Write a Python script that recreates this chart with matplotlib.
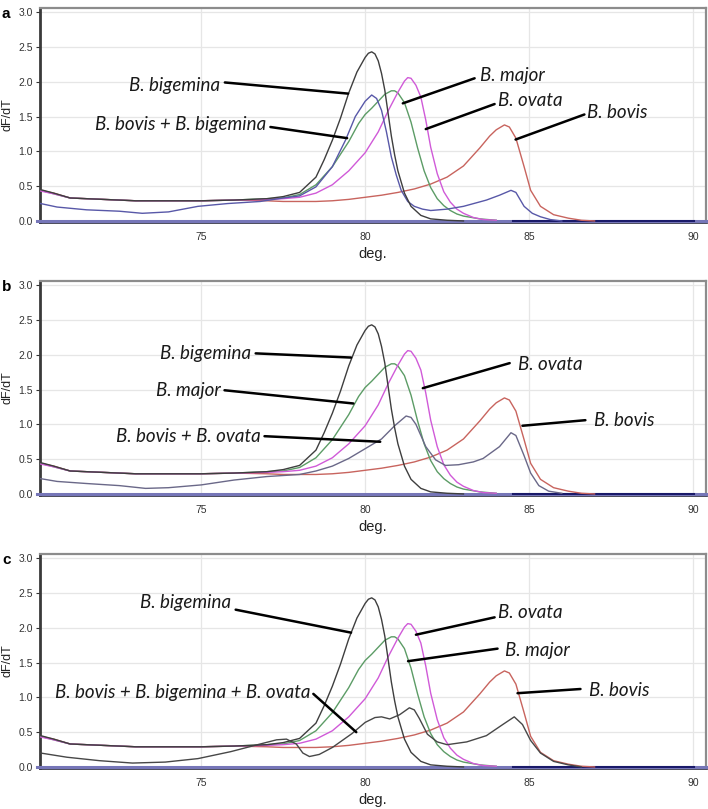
import matplotlib
matplotlib.use("Agg")
import matplotlib.pyplot as plt

# ---------------- data ----------------
x_ticks = [75, 80, 85, 90]
y_ticks = [0.0, 0.5, 1.0, 1.5, 2.0, 2.5, 3.0]
panel_labels = ["a", "b", "c"]

# reference species curves (same in all three panels)
bigemina_x = [70.1, 70.5, 71.0, 72.0, 73.0, 74.0, 75.0, 76.0, 77.0, 77.5, 78.0, 78.5, 78.75, 79.0,
              79.25, 79.5, 79.75, 80.0, 80.1, 80.2, 80.3, 80.4, 80.5, 80.6, 80.7, 80.8, 80.9, 81.0,
              81.2, 81.4, 81.7, 82.0, 82.5, 83.0]
bigemina_y = [0.45, 0.40, 0.33, 0.31, 0.29, 0.29, 0.29, 0.30, 0.32, 0.35, 0.41, 0.63, 0.88, 1.16,
              1.48, 1.84, 2.14, 2.35, 2.41, 2.43, 2.40, 2.30, 2.12, 1.88, 1.55, 1.22, 0.95, 0.72,
              0.40, 0.21, 0.08, 0.03, 0.01, 0.0]

major_x = [70.1, 70.5, 71.0, 72.0, 73.0, 74.0, 75.0, 76.0, 77.0, 77.5, 78.0, 78.5, 79.0, 79.5, 79.8,
           80.0, 80.2, 80.4, 80.6, 80.8, 80.9, 81.0, 81.2, 81.4, 81.6, 81.8, 82.0, 82.2, 82.4, 82.6,
           82.8, 83.0, 83.5, 84.0]
major_y = [0.44, 0.39, 0.33, 0.31, 0.29, 0.29, 0.29, 0.30, 0.32, 0.33, 0.38, 0.52, 0.78, 1.14, 1.40,
           1.53, 1.62, 1.72, 1.82, 1.87, 1.87, 1.84, 1.70, 1.42, 1.05, 0.72, 0.48, 0.32, 0.22, 0.15,
           0.10, 0.07, 0.03, 0.01]

ovata_x = [70.1, 70.5, 71.0, 72.0, 73.0, 74.0, 75.0, 76.0, 77.0, 77.5, 78.0, 78.5, 79.0, 79.5, 80.0,
           80.4, 80.7, 81.0, 81.2, 81.3, 81.4, 81.55, 81.7, 81.85, 82.0, 82.2, 82.4, 82.6, 82.8, 83.0,
           83.3, 83.6, 84.0]
ovata_y = [0.43, 0.39, 0.33, 0.31, 0.29, 0.29, 0.29, 0.30, 0.31, 0.32, 0.34, 0.40, 0.52, 0.72, 0.98,
           1.28, 1.58, 1.85, 2.01, 2.06, 2.05, 1.95, 1.78, 1.45, 1.06, 0.68, 0.42, 0.27, 0.17, 0.11,
           0.05, 0.02, 0.01]

bovis_x = [70.1, 70.5, 71.0, 72.0, 73.0, 74.0, 75.0, 76.0, 77.0, 77.5, 78.0, 78.5, 79.0, 79.5, 80.0,
           80.5, 81.0, 81.5, 82.0, 82.5, 83.0, 83.5, 83.8, 84.0, 84.25, 84.4, 84.6, 84.85, 85.05,
           85.35, 85.75, 86.2, 86.6, 87.0]
bovis_y = [0.44, 0.40, 0.33, 0.31, 0.29, 0.29, 0.29, 0.30, 0.29, 0.28, 0.28, 0.28, 0.29, 0.31, 0.34,
           0.37, 0.41, 0.46, 0.53, 0.63, 0.79, 1.05, 1.22, 1.31, 1.38, 1.35, 1.19, 0.78, 0.44,
           0.21, 0.09, 0.04, 0.01, 0.0]

# mixed-infection curves, one per panel
mix_a_x = [70.1, 70.6, 71.5, 72.5, 73.2, 74.0, 74.9, 75.8, 76.8, 77.5, 78.0, 78.5, 79.0, 79.4, 79.7,
           80.0, 80.2, 80.35, 80.5, 80.65, 80.8, 80.95, 81.1, 81.3, 81.5, 81.75, 82.0, 82.5, 83.0,
           83.7, 84.1, 84.45, 84.6, 84.85, 85.1, 85.35, 85.65, 86.0]
mix_a_y = [0.25, 0.20, 0.16, 0.14, 0.11, 0.13, 0.21, 0.25, 0.28, 0.33, 0.36, 0.49, 0.78, 1.16, 1.50,
           1.72, 1.81, 1.76, 1.59, 1.28, 0.92, 0.66, 0.44, 0.28, 0.21, 0.17, 0.15, 0.17, 0.21,
           0.30, 0.37, 0.44, 0.41, 0.21, 0.11, 0.06, 0.02, 0.0]

mix_b_x = [70.1, 70.6, 71.5, 72.5, 73.3, 74.0, 75.0, 76.0, 77.0, 78.0, 78.5, 79.0, 79.5, 80.0, 80.5,
           80.9, 81.25, 81.4, 81.55, 81.85, 82.15, 82.45, 82.85, 83.3, 83.6, 84.1, 84.45, 84.6,
           84.85, 85.05, 85.3, 85.6, 86.0]
mix_b_y = [0.22, 0.18, 0.15, 0.12, 0.08, 0.09, 0.13, 0.20, 0.25, 0.28, 0.33, 0.40, 0.51, 0.65, 0.79,
           0.98, 1.12, 1.10, 1.00, 0.68, 0.49, 0.41, 0.42, 0.46, 0.51, 0.68, 0.88, 0.84,
           0.55, 0.30, 0.12, 0.04, 0.01]

mix_c_x = [70.1, 70.9, 71.9, 72.9, 73.9, 74.9, 75.9, 76.8, 77.3, 77.6, 77.9, 78.1, 78.3, 78.6, 79.0,
           79.6, 80.0, 80.3, 80.5, 80.75, 81.05, 81.35, 81.5, 81.65, 81.9, 82.2, 82.5, 83.1, 83.7,
           84.2, 84.55, 84.8, 85.05, 85.35, 85.75, 86.2, 86.6]
mix_c_y = [0.20, 0.14, 0.09, 0.056, 0.07, 0.12, 0.22, 0.33, 0.39, 0.40, 0.33, 0.20, 0.15, 0.18, 0.28,
           0.48, 0.64, 0.71, 0.72, 0.69, 0.75, 0.85, 0.82, 0.70, 0.47, 0.36, 0.32, 0.36, 0.45,
           0.61, 0.72, 0.61, 0.38, 0.20, 0.08, 0.03, 0.0]

# flat negative-control traces along the bottom
neg_x = [70.0, 90.5]
neg_y = [0.0, 0.0]
neg_dark_x = [84.5, 90.0]
neg_dark_y = [0.0, 0.0]

mix_curves = [(mix_a_x, mix_a_y), (mix_b_x, mix_b_y), (mix_c_x, mix_c_y)]
mix_colors = ["#5858a8", "#6a6888", "#474747"]

# annotations per panel: (text, text anchor, ha, line start, line end)
annotations = [
    [("B. bigemina", (75.59, 1.95), "right", (75.72, 1.99), (79.48, 1.83)),
     ("B. bovis + B. bigemina", (76.99, 1.38), "right", (77.11, 1.35), (79.45, 1.19)),
     ("B. major", (83.50, 2.09), "left", (83.34, 2.05), (81.15, 1.69)),
     ("B. ovata", (84.04, 1.73), "left", (83.95, 1.68), (81.85, 1.32)),
     ("B. bovis", (86.78, 1.56), "left", (86.69, 1.53), (84.59, 1.17))],
    [("B. bigemina", (76.53, 2.02), "right", (76.66, 2.02), (79.57, 1.96)),
     ("B. major", (75.59, 1.48), "right", (75.71, 1.49), (79.64, 1.30)),
     ("B. bovis + B. ovata", (76.81, 0.83), "right", (76.93, 0.83), (80.46, 0.75)),
     ("B. ovata", (84.65, 1.86), "left", (84.41, 1.88), (81.76, 1.52)),
     ("B. bovis", (86.99, 1.05), "left", (86.72, 1.06), (84.80, 0.98))],
    [("B. bigemina", (75.90, 2.36), "right", (76.05, 2.26), (79.57, 1.93)),
     ("B. ovata", (84.04, 2.22), "left", (83.95, 2.15), (81.55, 1.90)),
     ("B. major", (84.26, 1.68), "left", (84.04, 1.70), (81.31, 1.52)),
     ("B. bovis", (86.84, 1.10), "left", (86.57, 1.12), (84.65, 1.06)),
     ("B. bovis + B. bigemina + B. ovata", (78.33, 1.07), "right", (78.42, 1.05), (79.73, 0.50))],
]

# ---------------- drawing ----------------
plt.rcParams["font.family"] = ["Liberation Sans", "DejaVu Sans"]
fig = plt.figure(figsize=(7.08, 8.09), dpi=100)

W, H = 708.0, 809.0
left_px, right_px = 40, 706
bottoms_px = [222, 495, 768]
height_px = 214

for i in range(3):
    ax = fig.add_axes([left_px / W, 1 - bottoms_px[i] / H, (right_px - left_px) / W, height_px / H])
    ax.set_xlim(70.08, 90.4)
    ax.set_ylim(-0.015, 3.06)
    ax.set_xticks(x_ticks)
    ax.set_yticks(y_ticks)
    ax.set_yticklabels([f"{v:.1f}" for v in y_ticks])
    ax.grid(True, color="#e6e6e6", lw=0.9)
    ax.set_axisbelow(True)
    ax.tick_params(axis="both", labelsize=7.5, colors="#333333", length=3, width=0.8, pad=2)
    ax.tick_params(axis="x", length=0, pad=7)
    for s in ["top", "right"]:
        ax.spines[s].set_color("#8c8c8c")
        ax.spines[s].set_linewidth(1.6)
    ax.spines["left"].set_color("#3a3a3a")
    ax.spines["left"].set_linewidth(2.0)
    ax.spines["bottom"].set_color("#3a3a4a")
    ax.spines["bottom"].set_linewidth(2.0)

    ax.plot(neg_x, neg_y, color="#7676b8", lw=2.2, zorder=3, clip_on=False)
    ax.plot(neg_dark_x, neg_dark_y, color="#1a1a6a", lw=2.2, zorder=3)

    ax.plot(bovis_x, bovis_y, color="#c8645e", lw=1.0, zorder=4)
    ax.plot(major_x, major_y, color="#5c9c66", lw=1.0, zorder=4)
    ax.plot(ovata_x, ovata_y, color="#d05ad8", lw=1.0, zorder=4)
    mx, my = mix_curves[i]
    ax.plot(mx, my, color=mix_colors[i], lw=1.0, zorder=4)
    ax.plot(bigemina_x, bigemina_y, color="#3e3e3e", lw=1.0, zorder=5)

    for text, pos, ha, p0, p1 in annotations[i]:
        ax.text(pos[0], pos[1], text, ha=ha, va="center", fontsize=13.5,
                fontstyle="italic", family=["Lato", "DejaVu Sans"], color="#1a1a1a", zorder=6)
        ax.annotate("", xy=p1, xytext=p0,
                    arrowprops=dict(arrowstyle="-", lw=1.8, color="black",
                                    shrinkA=0, shrinkB=0), zorder=6)

    ax.set_xlabel("deg.", fontsize=10.5, color="#222222", labelpad=4)
    ax.set_ylabel("dF/dT", fontsize=9, color="#222222")
    ax.yaxis.set_label_coords((14 - left_px) / (right_px - left_px), 0.5)
    fig.text(2 / W, 1 - (bottoms_px[i] - height_px + 6) / H, panel_labels[i],
             fontsize=11, fontweight="bold", va="center", ha="left")

fig.savefig("out.png", dpi=100)
